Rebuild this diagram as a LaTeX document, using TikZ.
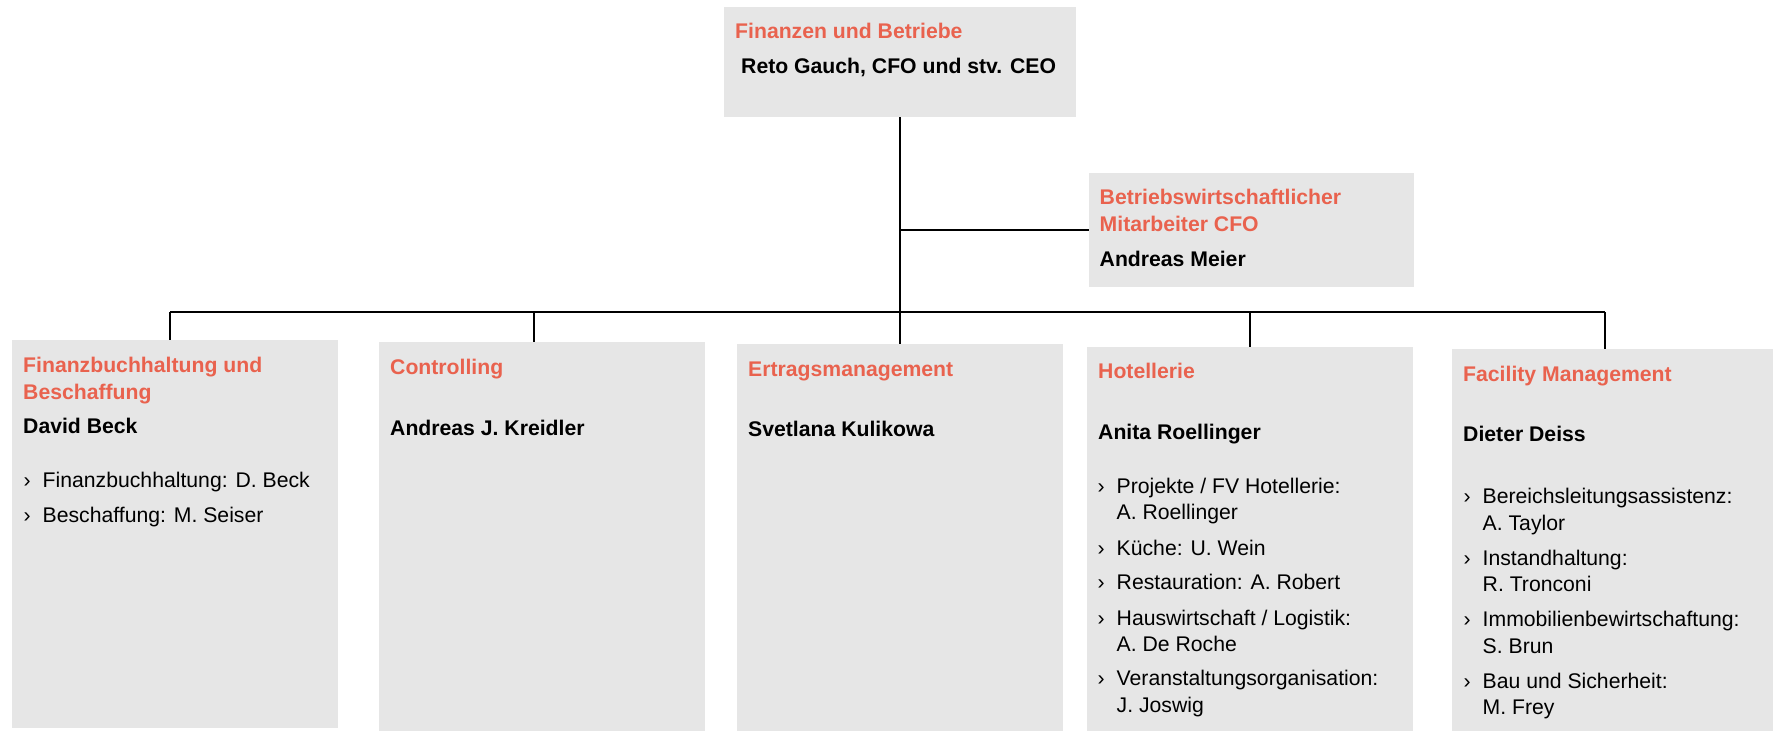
\documentclass[tikz,border=0pt]{standalone}
\usepackage{fontspec}
\setmainfont{Liberation Sans}
\definecolor{boxgray}{RGB}{230,230,230}
\definecolor{headred}{RGB}{233,98,78}
\tikzset{
  orgbox/.style={fill=boxgray, draw=none, inner sep=0pt, anchor=north west},
  headtxt/.style={anchor=base west, inner sep=0pt, text=headred, font=\fontsize{21.2}{26}\selectfont\bfseries},
  persontxt/.style={anchor=base west, inner sep=0pt, text=black, font=\fontsize{21.2}{26}\selectfont\bfseries},
  itemtxt/.style={anchor=base west, inner sep=0pt, text=black, font=\fontsize{21.2}{26}\selectfont},
  link/.style={line width=1.5pt, black}
}
\newcommand{\bul}[1]{\makebox[19pt][l]{›}#1}
\begin{document}
\begin{tikzpicture}[x=1pt,y=-1pt]
\useasboundingbox (0,0) rectangle (1773,731);

% boxes
\node[orgbox, minimum width=352pt, minimum height=110pt] (top) at (724,7) {};
\node[orgbox, minimum width=325pt, minimum height=114pt] (mit) at (1089,173) {};
\node[orgbox, minimum width=326pt, minimum height=388pt] (b1) at (12,340) {};
\node[orgbox, minimum width=326pt, minimum height=389pt] (b2) at (379,342) {};
\node[orgbox, minimum width=326pt, minimum height=387pt] (b3) at (737,344) {};
\node[orgbox, minimum width=326pt, minimum height=384pt] (b4) at (1087,347) {};
\node[orgbox, minimum width=321pt, minimum height=382pt] (b5) at (1452,349) {};

% connectors
\coordinate (d1) at (170,312);
\coordinate (d2) at (534,312);
\coordinate (d3) at (900,312);
\coordinate (d4) at (1250,312);
\coordinate (d5) at (1605,312);
\draw[link] (top.south) -- (top.south |- d3);
\draw[link] (top.south |- mit.west) -- (mit.west);
\draw[link] (d1) -- (d5);
\draw[link] (d1) -- (d1 |- b1.north);
\draw[link] (d2) -- (d2 |- b2.north);
\draw[link] (d3) -- (d3 |- b3.north);
\draw[link] (d4) -- (d4 |- b4.north);
\draw[link] (d5) -- (d5 |- b5.north);

% top box text
\node[headtxt] (t0a) at (735,38) {Finanzen und Betriebe};
\node[persontxt] (t0b) at (741,73) {Reto Gauch, CFO und stv. CEO};

% Mitarbeiter box
\node[headtxt] (tma) at (1099.5,204) {Betriebswirtschaftlicher};
\node[headtxt] (tmb) at (1099.5,231) {Mitarbeiter CFO};
\node[persontxt] (tmc) at (1099.5,266) {Andreas Meier};

% box 1
\node[headtxt] (t1a) at (23,372) {Finanzbuchhaltung und};
\node[headtxt] (t1b) at (23,399) {Beschaffung};
\node[persontxt] (t1c) at (23,433) {David Beck};
\node[itemtxt] (t1d) at (23.5,487) {\bul{Finanzbuchhaltung: D. Beck}};
\node[itemtxt] (t1e) at (23.5,522) {\bul{Beschaffung: M. Seiser}};

% box 2
\node[headtxt] (t2a) at (390,374) {Controlling};
\node[persontxt] (t2b) at (390,435) {Andreas J. Kreidler};

% box 3
\node[headtxt] (t3a) at (748,376) {Ertragsmanagement};
\node[persontxt] (t3b) at (748,436) {Svetlana Kulikowa};

% box 4
\node[headtxt] (t4a) at (1098,378) {Hotellerie};
\node[persontxt] (t4b) at (1098,439) {Anita Roellinger};
\node[itemtxt] (t4c) at (1097.5,493) {\bul{Projekte / FV Hotellerie:}};
\node[itemtxt] (t4d) at (1116.5,519.5) {A. Roellinger};
\node[itemtxt] (t4e) at (1097.5,555) {\bul{Küche: U. Wein}};
\node[itemtxt] (t4f) at (1097.5,589.5) {\bul{Restauration: A. Robert}};
\node[itemtxt] (t4g) at (1097.5,625) {\bul{Hauswirtschaft / Logistik:}};
\node[itemtxt] (t4h) at (1116.5,651) {A. De Roche};
\node[itemtxt] (t4i) at (1097.5,685.5) {\bul{Veranstaltungsorganisation:}};
\node[itemtxt] (t4j) at (1116.5,712) {J. Joswig};

% box 5
\node[headtxt] (t5a) at (1463,381) {Facility Management};
\node[persontxt] (t5b) at (1463,441) {Dieter Deiss};
\node[itemtxt] (t5c) at (1463.5,503.5) {\bul{Bereichsleitungsassistenz:}};
\node[itemtxt] (t5d) at (1482.5,530) {A. Taylor};
\node[itemtxt] (t5e) at (1463.5,565) {\bul{Instandhaltung:}};
\node[itemtxt] (t5f) at (1482.5,591.5) {R. Tronconi};
\node[itemtxt] (t5g) at (1463.5,626.5) {\bul{Immobilienbewirtschaftung:}};
\node[itemtxt] (t5h) at (1482.5,653) {S. Brun};
\node[itemtxt] (t5i) at (1463.5,688) {\bul{Bau und Sicherheit:}};
\node[itemtxt] (t5j) at (1482.5,714) {M. Frey};
\end{tikzpicture}
\end{document}
